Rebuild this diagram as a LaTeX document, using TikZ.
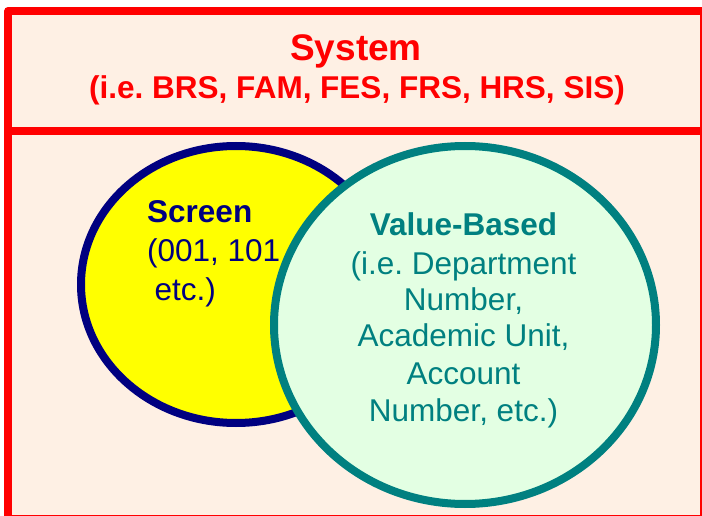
\documentclass[tikz,border=0pt]{standalone}
\usepackage{fontspec}
\setmainfont{Liberation Sans}
\usetikzlibrary{shapes.geometric}
\definecolor{peach}{RGB}{254,240,228}
\definecolor{mint}{RGB}{227,255,227}
\definecolor{navyc}{RGB}{0,0,128}
\definecolor{tealc}{RGB}{0,128,128}
\definecolor{redc}{RGB}{255,0,0}
\definecolor{yel}{RGB}{255,255,0}
\frenchspacing
\tikzset{
  frame/.style={draw=redc, line width=8pt, line join=round},
  title/.style={text=redc, font=\bfseries\fontsize{37}{44}\selectfont, anchor=base, inner sep=0pt},
  subtitle/.style={text=redc, font=\bfseries\fontsize{31.5}{38}\selectfont, anchor=base, inner sep=0pt},
  scrtxt/.style={text=navyc, font=\fontsize{31.5}{38}\selectfont, anchor=base west, inner sep=0pt},
  valtxt/.style={text=tealc, font=\fontsize{31.5}{38}\selectfont, anchor=base, inner sep=0pt},
}
\begin{document}
\begin{tikzpicture}[x=1pt, y=-1pt]
\useasboundingbox (0,0) rectangle (702,516);
\clip (0,0) rectangle (702,516);
% frame and header
\fill[peach] (8.25,11) rectangle (704.3,518.7);
\draw[frame] (8.25,11) rectangle (704.3,518.7);
\draw[frame] (8.25,131) -- (704.3,131);
\node[title] (sys) at (356,60.5) {System};
\node[subtitle] (syslist) at (357,98.3) {(i.e. BRS, FAM, FES, FRS, HRS, SIS)};
% screen ellipse
\node[ellipse, draw=navyc, line width=8pt, fill=yel, minimum width=310pt, minimum height=277pt, inner sep=0pt] (scr) at (236,284.5) {};
\node[scrtxt, font=\bfseries\fontsize{31.5}{38}\selectfont] (s1) at (147,222.7) {Screen};
\node[scrtxt] (s2) at (147,261.7) {(001, 101};
\node[scrtxt] (s3) at (154.5,300) {etc.)};
% value-based circle
\node[ellipse, draw=tealc, line width=8pt, fill=mint, minimum width=382pt, minimum height=358pt, inner sep=0pt] (val) at (465,325) {};
\node[valtxt, font=\bfseries\fontsize{31.5}{38}\selectfont] (v1) at (463.5,235) {Value-Based};
\node[valtxt] (v2) at (463.5,274) {(i.e. Department};
\node[valtxt] (v3) at (463.5,310) {Number,};
\node[valtxt] (v4) at (463.5,346) {Academic Unit,};
\node[valtxt] (v5) at (463.5,384) {Account};
\node[valtxt] (v6) at (463.5,421.7) {Number, etc.)};
\end{tikzpicture}
\end{document}
